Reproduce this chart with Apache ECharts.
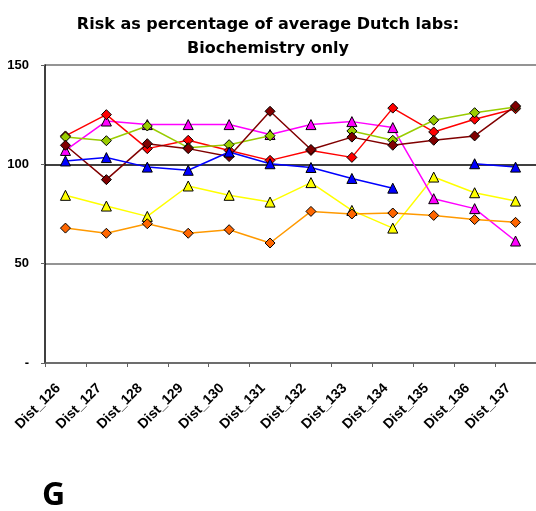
<!DOCTYPE html>
<html>
<head>
<meta charset="utf-8">
<script src="https://cdn.jsdelivr.net/npm/echarts@6/dist/echarts.min.js"></script>
<style>
html,body{margin:0;padding:0;background:#fff;}
#c{width:536px;height:511px;}
</style>
</head>
<body>
<div id="c"></div>
<script>
const categories = ['Dist_126','Dist_127','Dist_128','Dist_129','Dist_130','Dist_131','Dist_132','Dist_133','Dist_134','Dist_135','Dist_136','Dist_137'];
const yTicks = [0, 50, 100, 150];
const yellowVals  = [84.4, 79.0, 73.8, 89.1, 84.4, 81.0, 90.8, 76.8, 67.9, 93.6, 85.7, 81.5];
const magentaVals = [107.0, 121.8, 120.0, 120.0, 120.0, 115.0, 120.0, 121.5, 118.5, 82.7, 77.7, 61.4];
const redVals     = [114.3, 125.0, 107.9, 112.1, 107.0, 102.0, 107.0, 103.5, 128.3, 116.3, 122.7, 128.0];
const greenVals   = [113.8, 111.9, 119.3, 108.4, 109.9, 114.4, null, 116.8, 112.1, 122.2, 126.0, 128.9];
const darkRedVals = [109.6, 92.3, 110.4, 107.9, 103.9, 126.7, 107.5, 113.7, 109.6, 112.1, 114.3, 129.4];
const blueVals    = [101.7, 103.4, 98.6, 97.0, 106.2, 100.3, 98.4, 92.9, 88.0, null, 100.3, 98.6];
const orangeVals  = [67.9, 65.3, 70.1, 65.3, 67.1, 60.4, 76.3, 75.0, 75.5, 74.3, 72.2, 70.8];

function mk(name, data, lineColor, fillColor, symbol, size) {
  return {
    name: name, type: 'line', data: data,
    symbol: symbol, symbolSize: size,
    connectNulls: false,
    lineStyle: { color: lineColor, width: 1.5 },
    itemStyle: { color: fillColor, borderColor: '#000', borderWidth: 1 },
    emphasis: { disabled: true },
    animation: false
  };
}

const chart = echarts.init(document.getElementById('c'), null, { renderer: 'canvas' });
chart.setOption({
  backgroundColor: '#fff',
  animation: false,
  title: {
    text: 'Risk as percentage of average Dutch labs:\nBiochemistry only',
    left: 'center',
    top: 8,
    textStyle: { fontFamily: 'DejaVu Sans', fontWeight: 'bold', fontSize: 16, lineHeight: 24, color: '#000', align: 'center' }
  },
  grid: { left: 45, top: 65, width: 497, bottom: 148, containLabel: false },
  xAxis: {
    type: 'category', data: categories, boundaryGap: true,
    axisLine: { lineStyle: { color: '#606060', width: 1.5 } },
    axisTick: { show: true, length: 4, inside: false, lineStyle: { color: '#606060', width: 1 } },
    axisLabel: { rotate: 45, margin: 16, padding: [0, 10, 0, 0], interval: 0, fontFamily: 'Liberation Sans, Arial', fontWeight: 'bold', fontSize: 14, color: '#000' },
    splitLine: { show: false }
  },
  yAxis: {
    type: 'value', min: 0, max: 150, interval: 50,
    axisLine: { show: true, lineStyle: { color: '#000', width: 1.5 } },
    axisTick: { show: true, length: 4, lineStyle: { color: '#606060' } },
    axisLabel: {
      margin: 16, fontFamily: 'Liberation Sans, Arial', fontWeight: 'bold', fontSize: 13, color: '#000',
      formatter: function (v) { return yTicks.indexOf(v) === 0 ? '-' : String(v); }
    },
    splitLine: { show: true, lineStyle: { color: ['#707070', '#707070', '#000000', '#707070'], width: 1.5 } }
  },
  series: [
    mk('Yellow', yellowVals, '#FFFF00', '#FFFF00', 'triangle', 10),
    mk('Magenta', magentaVals, '#FF00FF', '#FF00FF', 'triangle', 10),
    mk('Red', redVals, '#FF0000', '#FF0000', 'diamond', 10),
    mk('Green', greenVals, '#99CC00', '#99CC00', 'diamond', 10),
    mk('DarkRed', darkRedVals, '#800000', '#800000', 'diamond', 10),
    mk('Blue', blueVals, '#0000FF', '#0000FF', 'triangle', 10),
    mk('Orange', orangeVals, '#FF9900', '#FF6600', 'diamond', 10)
  ],
  graphic: [{
    type: 'text', left: 42, top: 480,
    style: { text: 'G', font: 'bold 32px "Open Sans"', fill: '#000' }
  }]
});
</script>
</body>
</html>
